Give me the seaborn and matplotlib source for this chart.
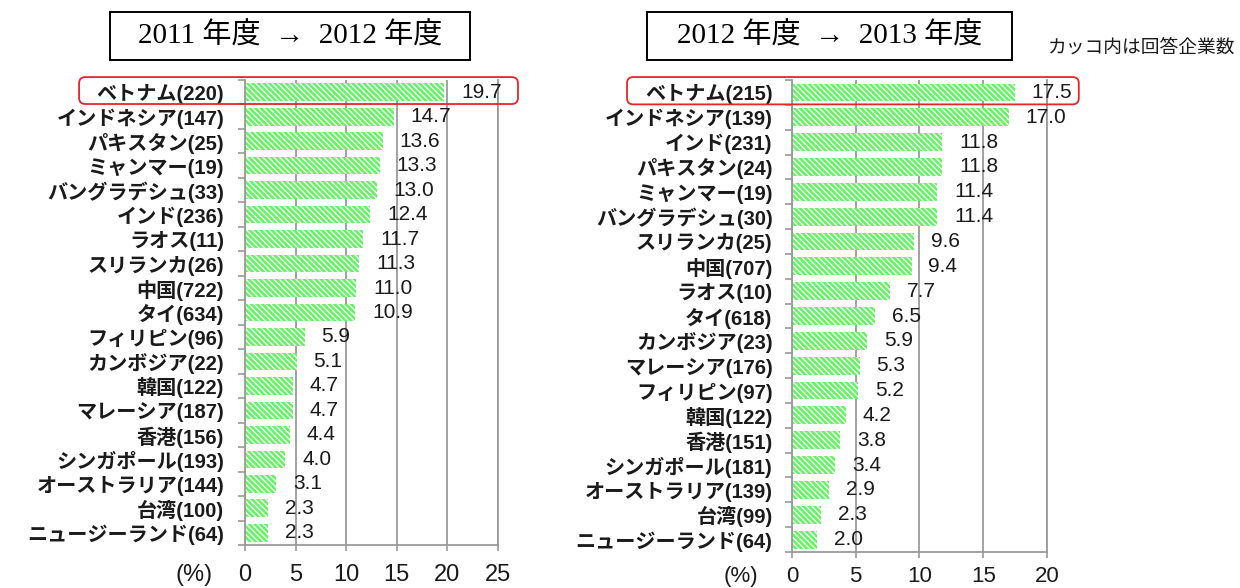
import matplotlib
matplotlib.use("Agg")
import matplotlib.pyplot as plt
import matplotlib.transforms as mtransforms
from matplotlib.patches import FancyBboxPatch, Rectangle
import seaborn as sns
import numpy as np

left_labels = ['ベトナム(220)', 'インドネシア(147)', 'パキスタン(25)', 'ミャンマー(19)',
               'バングラデシュ(33)', 'インド(236)', 'ラオス(11)', 'スリランカ(26)',
               '中国(722)', 'タイ(634)', 'フィリピン(96)', 'カンボジア(22)', '韓国(122)',
               'マレーシア(187)', '香港(156)', 'シンガポール(193)', 'オーストラリア(144)',
               '台湾(100)', 'ニュージーランド(64)']
left_vals = [19.7, 14.7, 13.6, 13.3, 13.0, 12.4, 11.7, 11.3, 11.0, 10.9,
             5.9, 5.1, 4.7, 4.7, 4.4, 4.0, 3.1, 2.3, 2.3]

right_labels = ['ベトナム(215)', 'インドネシア(139)', 'インド(231)', 'パキスタン(24)',
                'ミャンマー(19)', 'バングラデシュ(30)', 'スリランカ(25)', '中国(707)',
                'ラオス(10)', 'タイ(618)', 'カンボジア(23)', 'マレーシア(176)', 'フィリピン(97)',
                '韓国(122)', '香港(151)', 'シンガポール(181)', 'オーストラリア(139)',
                '台湾(99)', 'ニュージーランド(64)']
right_vals = [17.5, 17.0, 11.8, 11.8, 11.4, 11.4, 9.6, 9.4, 7.7, 6.5,
              5.9, 5.3, 5.2, 4.2, 3.8, 3.4, 2.9, 2.3, 2.0]

left_title = '2011 年度  →  2012 年度'
right_title = '2012 年度  →  2013 年度'
note = 'カッコ内は回答企業数'

GREEN = '#62f562'
GRID = '#9a9a9a'
RED = '#e8242a'

sns.set_theme(style='white')
plt.rcParams['font.family'] = ['Liberation Sans', 'Noto Sans CJK JP', 'DejaVu Sans']
SERIF = ['Liberation Serif', 'DejaVu Serif', 'Noto Sans CJK JP']

fig = plt.figure(figsize=(12.4, 5.88), dpi=100)
ax1 = fig.add_axes([0.1976, 0.0731, 0.204, 0.7908])
ax2 = fig.add_axes([0.6387, 0.0612, 0.2056, 0.8027])


def panel(ax, labels, vals, xmax, ypad, xpad, xsize):
    sns.barplot(x=vals, y=labels, orient='h', color=GREEN, saturation=1,
                width=0.72, ax=ax)
    for p in ax.patches:
        p.set_hatch('\\\\\\\\\\\\')
        p.set_edgecolor('white')
        p.set_linewidth(0)
    ax.bar_label(ax.containers[0], fmt='%.1f', padding=12, fontsize=15,
                 color='#1a1a1a')
    n = len(labels)
    ax.set_xlim(0, xmax)
    ax.set_ylim(n - 0.5, -0.5)
    ax.set_xticks(range(0, xmax + 1, 5))
    ax.set_yticks(np.arange(-0.5, n, 1.0), minor=True)
    ax.xaxis.grid(True, color=GRID, lw=1.3)
    ax.set_axisbelow(True)
    for s in ['left', 'bottom', 'right']:
        ax.spines[s].set_color(GRID)
        ax.spines[s].set_linewidth(1.3)
    ax.spines['top'].set_visible(False)
    ax.tick_params(axis='y', which='major', length=0, pad=ypad, labelsize=14.5,
                   labelcolor='#1a1a1a')
    for t in ax.get_yticklabels():
        t.set_fontweight('bold')
    ax.tick_params(axis='y', which='minor', left=True, length=5, width=1.2,
                   color=GRID)
    ax.tick_params(axis='x', bottom=True, length=4, width=1.2, color=GRID,
                   labelsize=xsize, pad=xpad, labelcolor='#1a1a1a')
    ax.set_xlabel('')
    ax.set_ylabel('')
    ax.annotate('(%)', xy=(-0.2, 0), xycoords='axes fraction',
                xytext=(0, -(xpad + 4)), textcoords='offset points',
                ha='center', va='top', fontsize=xsize, color='#1a1a1a')


def highlight(ax, x0, x1):
    trans = mtransforms.blended_transform_factory(ax.transAxes, ax.transData)
    pts = trans.transform([(x0, 0.48), (x1, -0.62)])
    (fx0, fy0), (fx1, fy1) = fig.transFigure.inverted().transform(pts)
    box = FancyBboxPatch((fx0, fy0), fx1 - fx0, fy1 - fy0,
                         boxstyle='round,pad=0,rounding_size=0.005',
                         mutation_aspect=1240 / 588, transform=fig.transFigure,
                         fill=False, ec=RED, lw=1.3)
    fig.add_artist(box)


def title_box(cx, w, text):
    cy, h = 0.939, 0.082
    fig.add_artist(Rectangle((cx - w / 2, cy - h / 2), w, h,
                             transform=fig.transFigure, fill=False,
                             ec='black', lw=1.4))
    fig.text(cx, cy, text, ha='center', va='center', fontsize=21,
             family=SERIF, color='black')


panel(ax1, left_labels, left_vals, 25, 15, 10, 17)
panel(ax2, right_labels, right_vals, 20, 14, 6, 16)
highlight(ax1, -0.656, 1.079)
highlight(ax2, -0.647, 1.125)
title_box(0.234, 0.29, left_title)
title_box(0.669, 0.294, right_title)
fig.text(0.996, 0.918, note, ha='right', va='center', fontsize=13.5,
         family=SERIF, color='#1a1a1a')

fig.savefig('out.png', dpi=100)
